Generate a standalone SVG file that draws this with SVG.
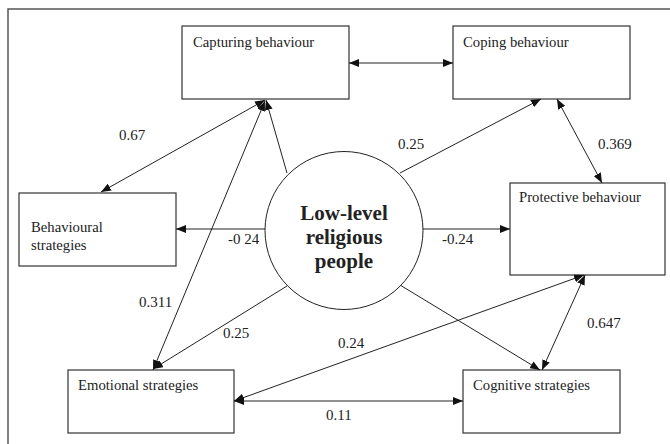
<svg xmlns="http://www.w3.org/2000/svg" width="670" height="444" viewBox="0 0 670 444">
<defs>
<marker id="ah" viewBox="0 0 10 8" refX="10" refY="4" markerWidth="10" markerHeight="8" markerUnits="userSpaceOnUse" orient="auto-start-reverse">
<path d="M0,0 L10,4 L0,8 Z" fill="#111"/>
</marker>
<style>
.box{fill:#fff;stroke:#333;stroke-width:1.2}
.lbl{font-size:14.7px;fill:#222}
.num{font-size:15px;fill:#222}
.c line{stroke:#222;stroke-width:1;fill:none}
.big{font-size:21px;font-weight:bold;fill:#222}
</style>
</defs>
<rect width="670" height="444" fill="#fff"/>
<path d="M8,444 V9 H670" fill="none" stroke="#555" stroke-width="1.5"/>

<g style="font-family:'Liberation Serif','Times New Roman',serif">
<g id="capturing"><rect class="box" x="182" y="26" width="167" height="73"/><text class="lbl" x="193" y="47">Capturing behaviour</text></g>
<g id="coping"><rect class="box" x="453" y="26" width="177" height="73"/><text class="lbl" x="463" y="47">Coping behaviour</text></g>
<g id="protective"><rect class="box" x="510" y="183" width="155" height="92"/><text class="lbl" x="519" y="202">Protective behaviour</text></g>
<g id="behavioural"><rect class="box" x="19" y="193" width="157" height="73"/><text class="lbl" x="31" y="232">Behavioural</text><text class="lbl" x="31" y="250">strategies</text></g>
<g id="emotional"><rect class="box" x="68" y="370" width="166" height="63"/><text class="lbl" x="78" y="390">Emotional strategies</text></g>
<g id="cognitive"><rect class="box" x="463" y="370" width="157" height="63"/><text class="lbl" x="473" y="390">Cognitive strategies</text></g>

<g class="c" id="connectors">
<line x1="349" y1="63" x2="453" y2="63" marker-start="url(#ah)" marker-end="url(#ah)"/>
<line x1="101" y1="192" x2="265" y2="100" marker-start="url(#ah)" marker-end="url(#ah)"/>
<line x1="287" y1="173" x2="266" y2="100" marker-end="url(#ah)"/>
<line x1="153" y1="370" x2="265" y2="101" marker-start="url(#ah)" marker-end="url(#ah)"/>
<line x1="287" y1="286" x2="153" y2="369" marker-end="url(#ah)"/>
<line x1="265" y1="229" x2="176" y2="229" marker-end="url(#ah)"/>
<line x1="422" y1="229" x2="510" y2="229" marker-end="url(#ah)"/>
<line x1="400" y1="173" x2="541" y2="99" marker-end="url(#ah)"/>
<line x1="557" y1="99" x2="602" y2="183" marker-start="url(#ah)" marker-end="url(#ah)"/>
<line x1="400" y1="285" x2="540" y2="370" marker-end="url(#ah)"/>
<line x1="585" y1="275" x2="542" y2="370" marker-start="url(#ah)" marker-end="url(#ah)"/>
<line x1="234" y1="401" x2="584" y2="275" marker-start="url(#ah)" marker-end="url(#ah)"/>
<line x1="234" y1="401" x2="463" y2="401" marker-start="url(#ah)" marker-end="url(#ah)"/>
</g>

<g id="center">
<circle cx="344" cy="230.5" r="79" fill="#fff" stroke="#222" stroke-width="1"/>
<text class="big" x="344" y="220" text-anchor="middle">Low-level</text>
<text class="big" x="344" y="244" text-anchor="middle">religious</text>
<text class="big" x="344" y="268" text-anchor="middle">people</text>
</g>

<g id="labels">
<text class="num" x="119" y="140">0.67</text>
<text class="num" x="398" y="149">0.25</text>
<text class="num" x="598" y="149">0.369</text>
<text class="num" x="228" y="244">-0 24</text>
<text class="num" x="442" y="244">-0.24</text>
<text class="num" x="139" y="307">0.311</text>
<text class="num" x="223" y="338">0.25</text>
<text class="num" x="338" y="348">0.24</text>
<text class="num" x="587" y="328">0.647</text>
<text class="num" x="326" y="420">0.11</text>
</g>
</g>
</svg>
